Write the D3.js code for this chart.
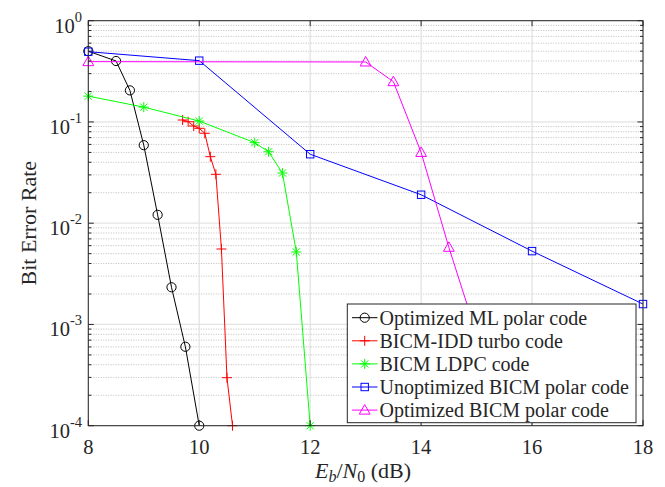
<!DOCTYPE html>
<html><head><meta charset="utf-8">
<script src="https://cdn.jsdelivr.net/npm/d3@7"></script>
<style>
html,body{margin:0;padding:0;background:#fff;}
svg{display:block;}
text{font-family:"Liberation Serif","Times New Roman",serif;fill:#262626;}
</style></head>
<body>
<svg id="chart" width="665" height="487"></svg>
<script>
// ---- data ----
const mlX   = [8, 8.5, 8.75, 9, 9.25, 9.5, 9.75, 10];
const mlY   = [0.5, 0.40, 0.205, 0.059, 0.0121, 0.00233, 0.000602, 0.0001];
const turboX = [9.7, 9.8, 9.9, 10.0, 10.1, 10.2, 10.3, 10.4, 10.5, 10.6];
const turboY = [0.1045, 0.1005, 0.0912, 0.0865, 0.0773, 0.0454, 0.0304, 0.00556, 0.000298, 0.0001];
const ldpcX = [8, 9, 10, 11, 11.25, 11.5, 11.75, 12];
const ldpcY = [0.18, 0.14, 0.102, 0.0624, 0.0508, 0.0313, 0.0052, 0.0001];
const unoptX = [8, 10, 12, 14, 16, 18];
const unoptY = [0.494, 0.403, 0.048, 0.0191, 0.0053, 0.00159];
const optX = [8, 13, 13.5, 14, 14.5, 15];
const optY = [0.394, 0.391, 0.25, 0.050, 0.00578, 0.0008];
const xTicks = [8, 10, 12, 14, 16, 18];
const yExponents = [0, -1, -2, -3, -4];
const seriesNames = ["Optimized ML polar code", "BICM-IDD turbo code", "BICM LDPC code",
                     "Unoptimized BICM polar code", "Optimized BICM polar code"];
const seriesColors = ["#000000", "#ff0000", "#00ff00", "#0000ff", "#ff00ff"];
const seriesMarkers = ["circle", "plus", "star", "square", "triangle"];

const series = [
  {x: mlX, y: mlY}, {x: turboX, y: turboY}, {x: ldpcX, y: ldpcY},
  {x: unoptX, y: unoptY}, {x: optX, y: optY}
].map((s, i) => ({name: seriesNames[i], color: seriesColors[i], marker: seriesMarkers[i],
  pts: s.x.map((v, j) => [v, s.y[j]])}));

// ---- layout ----
const L = 88.3, R = 643, T = 20.7, B = 425.7;
const x = d3.scaleLinear().domain([8, 18]).range([L, R]);
const y = d3.scaleLog().domain([1e-4, 1]).range([B, T]);
const svg = d3.select("#chart");
const axisCol = "#262626";

// grid: minor y (dotted)
const minorVals = [];
yExponents.slice(1).forEach(e => { for (let k = 2; k <= 9; k++) minorVals.push(k * Math.pow(10, e)); });
svg.append("g").selectAll("line").data(minorVals).join("line")
  .attr("x1", L).attr("x2", R).attr("y1", d => y(d)).attr("y2", d => y(d))
  .attr("stroke", "#bdbdbd").attr("stroke-width", 1).attr("stroke-dasharray", "1,1.5");
// grid: major
const majorY = yExponents.map(e => Math.pow(10, e));
svg.append("g").selectAll("line").data(majorY).join("line")
  .attr("x1", L).attr("x2", R).attr("y1", d => y(d)).attr("y2", d => y(d))
  .attr("stroke", "#e3e3e3").attr("stroke-width", 1.3);
svg.append("g").selectAll("line").data(xTicks).join("line")
  .attr("x1", d => x(d)).attr("x2", d => x(d)).attr("y1", T).attr("y2", B)
  .attr("stroke", "#e3e3e3").attr("stroke-width", 1.3);

// ---- series ----
const line = d3.line().x(d => x(d[0])).y(d => y(d[1]));
const clipId = "plotclip";
svg.append("clipPath").attr("id", clipId).append("rect")
  .attr("x", L - 8).attr("y", T - 8).attr("width", R - L + 16).attr("height", B - T + 16);

function drawMarker(g, mk, cx, cy, color) {
  if (mk === "circle") {
    g.append("circle").attr("cx", cx).attr("cy", cy).attr("r", 4.6)
      .attr("fill", "none").attr("stroke", color).attr("stroke-width", 1);
  } else if (mk === "plus") {
    g.append("path").attr("d", `M${cx-5},${cy}H${cx+5}M${cx},${cy-5}V${cy+5}`)
      .attr("stroke", color).attr("stroke-width", 1).attr("fill", "none");
  } else if (mk === "star") {
    const a = 3.6;
    g.append("path").attr("d", `M${cx-5},${cy}H${cx+5}M${cx},${cy-5}V${cy+5}M${cx-a},${cy-a}L${cx+a},${cy+a}M${cx-a},${cy+a}L${cx+a},${cy-a}`)
      .attr("stroke", color).attr("stroke-width", 1).attr("fill", "none");
  } else if (mk === "square") {
    g.append("rect").attr("x", cx - 3.7).attr("y", cy - 3.7).attr("width", 7.4).attr("height", 7.4)
      .attr("fill", "none").attr("stroke", color).attr("stroke-width", 1);
  } else if (mk === "triangle") {
    g.append("path").attr("d", `M${cx},${cy-5.5}L${cx+5.4},${cy+4}L${cx-5.4},${cy+4}Z`)
      .attr("fill", "none").attr("stroke", color).attr("stroke-width", 1);
  }
}

const plotG = svg.append("g").attr("clip-path", `url(#${clipId})`);
series.forEach(s => {
  const g = plotG.append("g");
  g.append("path").datum(s.pts).attr("d", line)
    .attr("fill", "none").attr("stroke", s.color).attr("stroke-width", 1);
  s.pts.forEach(p => drawMarker(g, s.marker, x(p[0]), y(p[1]), s.color));
});

// ---- axes box & ticks ----
svg.append("rect").attr("x", L).attr("y", T).attr("width", R - L).attr("height", B - T)
  .attr("fill", "none").attr("stroke", axisCol).attr("stroke-width", 1);
const tk = svg.append("g").attr("stroke", axisCol).attr("stroke-width", 1);
xTicks.forEach(v => {
  tk.append("line").attr("x1", x(v)).attr("x2", x(v)).attr("y1", B).attr("y2", B - 5.5);
  tk.append("line").attr("x1", x(v)).attr("x2", x(v)).attr("y1", T).attr("y2", T + 5.5);
});
majorY.forEach(v => {
  tk.append("line").attr("x1", L).attr("x2", L + 5.5).attr("y1", y(v)).attr("y2", y(v));
  tk.append("line").attr("x1", R).attr("x2", R - 5.5).attr("y1", y(v)).attr("y2", y(v));
});
minorVals.forEach(v => {
  tk.append("line").attr("x1", L).attr("x2", L + 3).attr("y1", y(v)).attr("y2", y(v));
  tk.append("line").attr("x1", R).attr("x2", R - 3).attr("y1", y(v)).attr("y2", y(v));
});

// x tick labels
svg.append("g").selectAll("text").data(xTicks).join("text")
  .attr("x", d => x(d)).attr("y", 453.5).attr("text-anchor", "middle")
  .attr("font-size", 20.5).text(d => d);

// y tick labels
yExponents.forEach(e => {
  const t = svg.append("text").attr("x", 82).attr("y", y(Math.pow(10, e)) + 12)
    .attr("text-anchor", "end").attr("font-size", 20.5);
  t.append("tspan").text("10");
  t.append("tspan").attr("dy", -11).attr("font-size", 14.5).text(e === 0 ? "0" : "-" + Math.abs(e));
});

// axis labels
svg.append("text").attr("transform", `translate(36,${(T + B) / 2}) rotate(-90)`)
  .attr("text-anchor", "middle").attr("font-size", 22).text("Bit Error Rate");
const xl = svg.append("text").attr("x", 363).attr("y", 478)
  .attr("text-anchor", "middle").attr("font-size", 22);
xl.append("tspan").attr("font-style", "italic").text("E");
xl.append("tspan").attr("font-style", "italic").attr("font-size", 16).attr("dy", 4).text("b");
xl.append("tspan").attr("dy", -4).text("/");
xl.append("tspan").attr("font-style", "italic").text("N");
xl.append("tspan").attr("font-size", 16).attr("dy", 4).text("0");
xl.append("tspan").attr("dy", -4).text("\u00a0(dB)");

// ---- legend ----
const lg = svg.append("g");
lg.append("rect").attr("x", 347.3).attr("y", 304).attr("width", 288.7).attr("height", 118.7)
  .attr("fill", "#fff").attr("stroke", axisCol).attr("stroke-width", 1);
series.forEach((s, i) => {
  const cy = 317.7 + i * 23.1;
  lg.append("line").attr("x1", 352).attr("x2", 377.5).attr("y1", cy).attr("y2", cy)
    .attr("stroke", s.color).attr("stroke-width", 1);
  drawMarker(lg, s.marker, 364.7, cy, s.color);
  lg.append("text").attr("x", 379.5).attr("y", cy + 7).attr("font-size", 20).text(s.name);
});
</script>
</body></html>
